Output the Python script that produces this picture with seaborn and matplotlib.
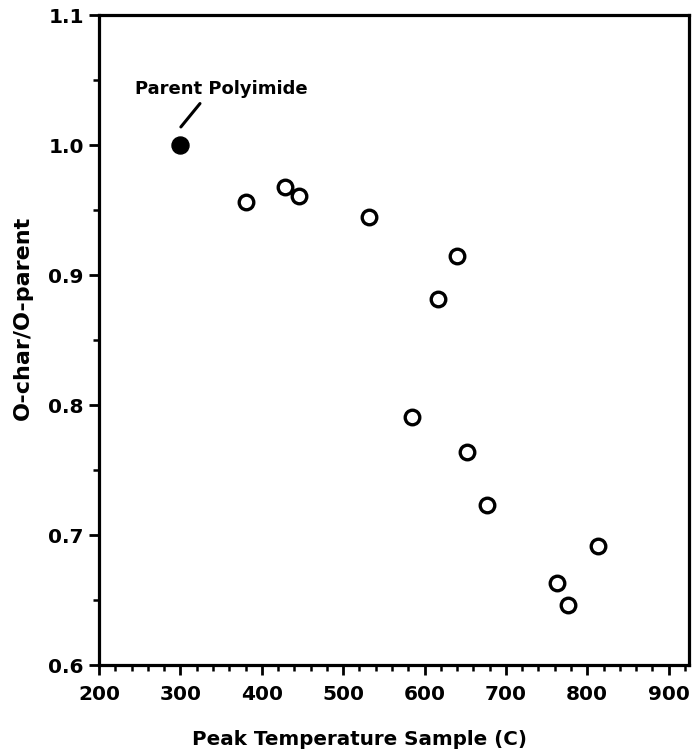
import matplotlib
matplotlib.use("Agg")
import matplotlib.pyplot as plt
import seaborn as sns
import pandas as pd
from matplotlib.ticker import MultipleLocator, FormatStrFormatter

# Data
parent_temp = [300]
parent_ratio = [1.0]
char_temp = [380, 428, 446, 532, 640, 616, 585, 652, 677, 813, 763, 776]
char_ratio = [0.956, 0.968, 0.961, 0.945, 0.915, 0.882, 0.791, 0.764, 0.723, 0.692, 0.663, 0.646]

x_ticks = [200, 300, 400, 500, 600, 700, 800, 900]
y_ticks = [0.6, 0.7, 0.8, 0.9, 1.0, 1.1]

sns.set_theme(style="ticks")
plt.rcParams['font.family'] = ['DejaVu Sans']
plt.rcParams['text.color'] = 'black'
plt.rcParams['axes.labelcolor'] = 'black'
plt.rcParams['xtick.color'] = 'black'
plt.rcParams['ytick.color'] = 'black'

fig = plt.figure(figsize=(6.98, 7.56), dpi=100)
ax = fig.add_axes([0.142, 0.120, 0.845, 0.860])

df_parent = pd.DataFrame({"T": parent_temp, "R": parent_ratio})
df_char = pd.DataFrame({"T": char_temp, "R": char_ratio})

sns.scatterplot(data=df_char, x="T", y="R", ax=ax, s=110, marker="o",
                facecolor="white", edgecolor="black", linewidth=2.4, zorder=3)
sns.scatterplot(data=df_parent, x="T", y="R", ax=ax, s=150, marker="o",
                color="black", edgecolor="black", linewidth=1, zorder=3)

ax.set_xlim(200, 925)
ax.set_ylim(0.6, 1.1)
ax.set_xticks(x_ticks)
ax.set_yticks(y_ticks)
ax.yaxis.set_major_formatter(FormatStrFormatter('%.1f'))
ax.xaxis.set_minor_locator(MultipleLocator(20))
ax.yaxis.set_minor_locator(MultipleLocator(0.05))

for s in ax.spines.values():
    s.set_linewidth(2.3)
    s.set_color("black")

ax.tick_params(axis='both', which='major', direction='out', length=7, width=2,
               labelsize=14.5, color='black', labelcolor='black')
ax.tick_params(axis='x', which='major', pad=7)
ax.tick_params(axis='y', which='major', pad=4)
ax.tick_params(axis='both', which='minor', direction='out', length=4, width=1.8,
               color='black')
for lab in ax.get_xticklabels() + ax.get_yticklabels():
    lab.set_fontweight('bold')

ax.set_xlabel("Peak Temperature Sample (C)", fontsize=14.3, fontweight='bold', color='black')
ax.set_ylabel("O-char/O-parent", fontsize=16, fontweight='bold', color='black')
ax.xaxis.set_label_coords(0.442, -0.100)
ax.yaxis.set_label_coords(-0.112, 0.534)

ax.annotate("", xy=(300.5, 1.014), xytext=(324, 1.032),
            arrowprops=dict(arrowstyle='-', color='black', lw=2.2,
                            shrinkA=0, shrinkB=0))
ax.text(350, 1.043, "Parent Polyimide", fontsize=13, ha='center', va='center',
        fontweight='bold', color='black')

fig.savefig("out.png", dpi=100, facecolor="white")
